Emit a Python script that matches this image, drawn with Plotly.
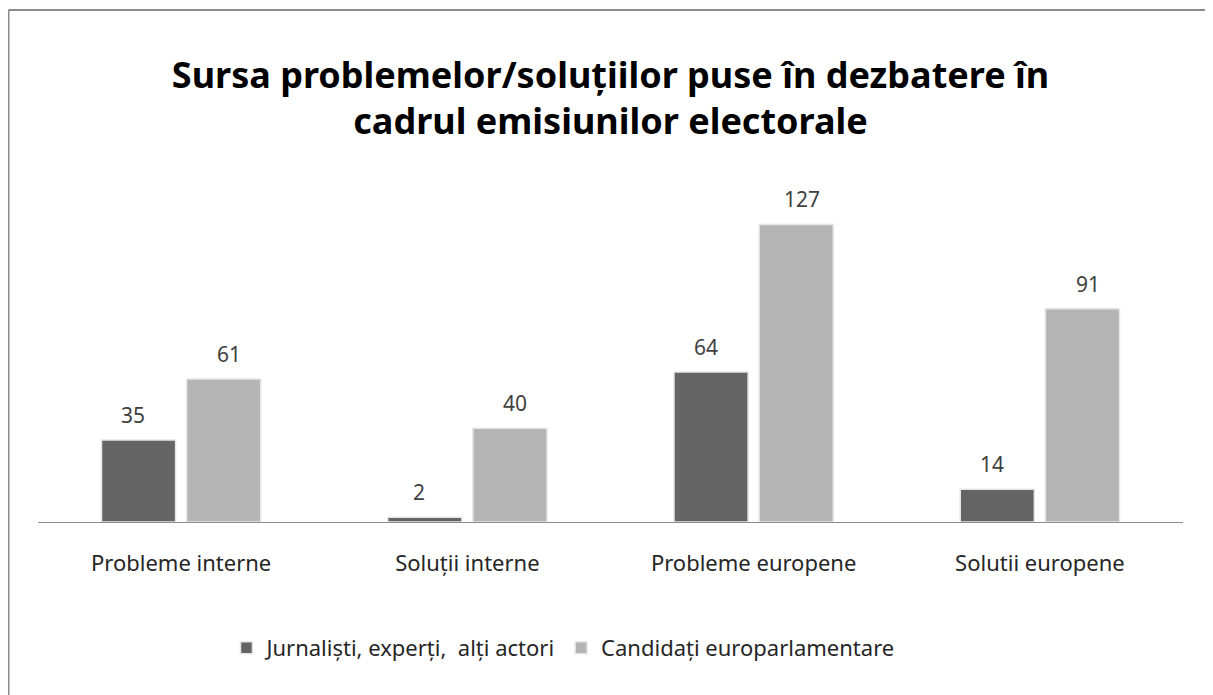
import plotly.graph_objects as go

# Data
categories = ["Probleme interne", "Soluții interne", "Probleme europene", "Solutii europene"]
jurnalisti = [35, 2, 64, 14]
candidati = [61, 40, 127, 91]
series_names = ["Jurnaliști, experți,  alți actori", "Candidați europarlamentare"]

# page body adds an 8px margin, so the figure is a bit smaller than the window
W, H = 1205, 687
ml, mr, mt, mb = 30, 30, 186, 173
ymax = 140
FONT = "Noto Sans"

fig = go.Figure()
fig.add_trace(go.Bar(x=categories, y=jurnalisti, name=series_names[0],
                     marker=dict(color="#646464", line=dict(color="#e6e6e6", width=1.5))))
fig.add_trace(go.Bar(x=categories, y=candidati, name=series_names[1],
                     marker=dict(color="#b4b4b4", line=dict(color="#e6e6e6", width=1.5))))

# value labels above bars
off = 0.168
for i, (a, b) in enumerate(zip(jurnalisti, candidati)):
    for dx, v in ((-off, a), (off, b)):
        fig.add_annotation(x=i + dx, y=v, text=str(v), showarrow=False,
                           yanchor="bottom", yshift=9,
                           font=dict(size=21, color="#404040", family=FONT))

# outer border (left and top only visible)
pw = W - ml - mr
ph = H - mt - mb
x0 = (0.5 - ml) / pw
y1 = (H - mb - 2) / ph
fig.add_shape(type="line", xref="paper", yref="paper", x0=x0, x1=x0, y0=-2, y1=y1,
              line=dict(color="#8c8c8c", width=2))
fig.add_shape(type="line", xref="paper", yref="paper", x0=x0, x1=2, y0=y1, y1=y1,
              line=dict(color="#8c8c8c", width=2))

fig.update_layout(
    width=W, height=H,
    margin=dict(l=ml, r=mr, t=mt, b=mb),
    paper_bgcolor="white", plot_bgcolor="white",
    font=dict(family=FONT, color="#262626"),
    title=dict(text="<b>Sursa problemelor/soluțiilor puse în dezbatere în<br>cadrul emisiunilor electorale</b>",
               x=0.5, xanchor="center", yref="container", y=0.884, yanchor="middle",
               font=dict(size=36, color="black", family=FONT)),
    barmode="group", bargap=0.405, bargroupgap=0.13,
    showlegend=True,
    legend=dict(orientation="h", x=0.4585, xanchor="center", y=-0.384, yanchor="middle",
                font=dict(size=22, color="#262626"), itemwidth=30),
)
fig.update_xaxes(showline=True, linecolor="#8c8c8c", linewidth=1, ticks="",
                 ticklabelstandoff=22,
                 tickfont=dict(size=22, color="#262626", family=FONT), showgrid=False)
fig.update_yaxes(range=[0, ymax], visible=False, showgrid=False)

fig.write_html("out.html")
